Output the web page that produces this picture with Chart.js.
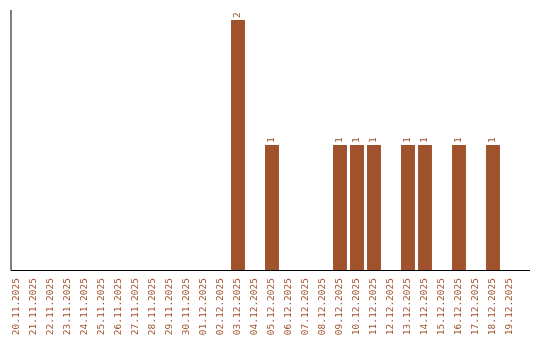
<!DOCTYPE html>
<html>
<head>
<meta charset="utf-8">
<script src="https://cdn.jsdelivr.net/npm/chart.js@4/dist/chart.umd.min.js"></script>
<style>
  html, body { margin: 0; padding: 0; background: #fff; }
  #wrap { width: 540px; height: 340px; }
</style>
</head>
<body>
<div id="wrap"><canvas id="chart"></canvas></div>
<script>
'use strict';

// days shown on the x axis
const days = [
  '20.11.2025', '21.11.2025', '22.11.2025', '23.11.2025', '24.11.2025',
  '25.11.2025', '26.11.2025', '27.11.2025', '28.11.2025', '29.11.2025',
  '30.11.2025', '01.12.2025', '02.12.2025', '03.12.2025', '04.12.2025',
  '05.12.2025', '06.12.2025', '07.12.2025', '08.12.2025', '09.12.2025',
  '10.12.2025', '11.12.2025', '12.12.2025', '13.12.2025', '14.12.2025',
  '15.12.2025', '16.12.2025', '17.12.2025', '18.12.2025', '19.12.2025'
];
// count per day
const counts = [
  0, 0, 0, 0, 0,
  0, 0, 0, 0, 0,
  0, 0, 0, 2, 0,
  1, 0, 0, 0, 1,
  1, 1, 0, 1, 1,
  0, 1, 0, 1, 0
];

const BROWN = '#a0522d';
const FONT = { family: 'DejaVu Sans Mono', size: 9.5 };

// axis lines like the original (a bit wider than the bar area)
const axisLines = {
  id: 'axisLines',
  afterDraw(chart) {
    const { ctx, chartArea } = chart;
    const x0 = chartArea.left + 2.5;
    ctx.save();
    ctx.strokeStyle = '#000';
    ctx.lineWidth = 1;
    ctx.beginPath();
    ctx.moveTo(x0, chartArea.top);
    ctx.lineTo(x0, chartArea.bottom + 0.5);
    ctx.lineTo(chartArea.right + 11.5, chartArea.bottom + 0.5);
    ctx.stroke();
    ctx.restore();
  }
};

// rotated value labels on top of the bars
const valueLabels = {
  id: 'valueLabels',
  afterDatasetsDraw(chart) {
    const { ctx } = chart;
    const meta = chart.getDatasetMeta(0);
    ctx.save();
    ctx.fillStyle = BROWN;
    ctx.font = FONT.size + 'px ' + FONT.family;
    ctx.textAlign = 'left';
    ctx.textBaseline = 'middle';
    meta.data.forEach((bar, i) => {
      if (!counts[i]) return;
      ctx.save();
      ctx.translate(bar.x, bar.y - 2);
      ctx.rotate(-Math.PI / 2);
      ctx.fillText(String(counts[i]), 0, 0);
      ctx.restore();
    });
    ctx.restore();
  }
};

new Chart(document.getElementById('chart'), {
  type: 'bar',
  data: {
    labels: days,
    datasets: [{
      data: counts,
      backgroundColor: BROWN,
      borderWidth: 0,
      barPercentage: 0.82,
      categoryPercentage: 1
    }]
  },
  options: {
    responsive: true,
    maintainAspectRatio: false,
    animation: false,
    layout: { padding: { left: 8.5, right: 21.5, top: 10, bottom: 0 } },
    plugins: {
      legend: { display: false },
      tooltip: { enabled: false }
    },
    scales: {
      x: {
        offset: true,
        border: { display: false },
        grid: { display: false },
        ticks: {
          color: BROWN,
          font: FONT,
          minRotation: 90,
          maxRotation: 90,
          autoSkip: false,
          padding: 0
        },
        afterFit(scale) { scale.height = 70; }
      },
      y: {
        display: false,
        min: 0,
        max: 2.08
      }
    }
  },
  plugins: [axisLines, valueLabels]
});
</script>
</body>
</html>
